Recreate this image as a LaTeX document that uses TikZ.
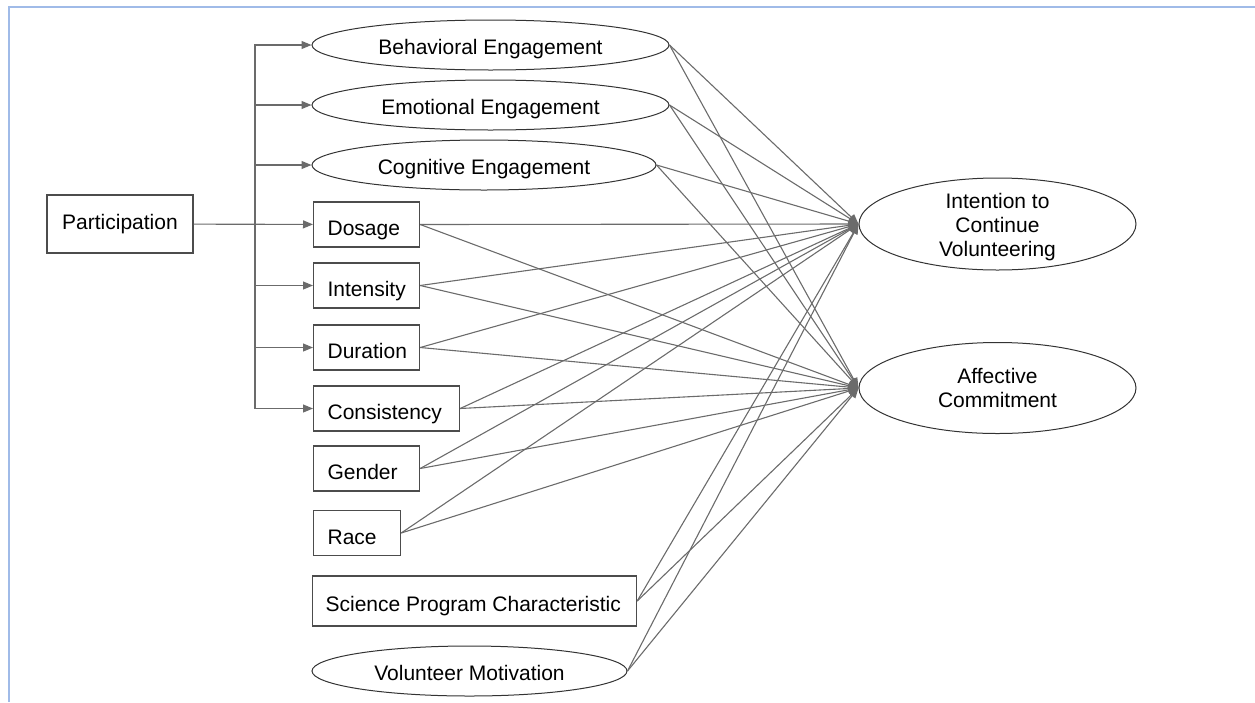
\documentclass[tikz,border=0pt]{standalone}
\usepackage{fontspec}
\setmainfont{Liberation Sans}
\usetikzlibrary{shapes, arrows.meta, positioning}
\definecolor{bingkai}{RGB}{160,187,232}

\begin{document}
\begin{tikzpicture}
  [
  x = 1pt, y = -1pt,
  block/.style = {rectangle,
    draw = black!70, line width = 1.2pt, minimum height = 45pt,
    inner ysep = 0pt, inner xsep = 14pt, anchor = west, align = flush left,
    text height = 25pt, text depth = 3pt,
    font = \fontsize{21}{24}\selectfont},
  % bulat
  bulat/.style = {ellipse,
    draw = black!80, line width = 1pt, minimum height = 50pt,
    inner sep = 0pt, align = center,
    text height = 20pt, text depth = 2pt,
    font = \fontsize{21}{24}\selectfont},
  % bulat besar
  besar/.style = {bulat, minimum width = 277pt, inner ysep = -5pt,
    text height = {}, text depth = {}},
  % line
  line/.style = {draw = black!58, line width = 1.1pt,
    -{Triangle[length = 10pt, width = 8pt]}},
  ]

  \useasboundingbox (0,0) rectangle (1255,702);
  \draw [bingkai, line width = 1.5pt] (9,702) -- (9,7) -- (1255,7);

  % nodes
  \node [block, anchor = center, align = center, text width = 118pt,
    text height = 15pt, text depth = 4pt, minimum height = 58pt]
    (part) at (120,224) {Participation};
  \node [bulat, minimum width = 357pt] (behav) at (490.5,45) {Behavioral Engagement};
  \node [bulat, minimum width = 357pt] (emot) at (490.5,105) {Emotional Engagement};
  \node [bulat, minimum width = 344pt] (cogn) at (484,165) {Cognitive Engagement};
  \node [block, text width = 78pt] (dose) at (313,224.5) {Dosage};
  \node [block, text width = 78pt] (inten) at (313,285.5) {Intensity};
  \node [block, text width = 78pt] (durat) at (313,347.5) {Duration};
  \node [block, text width = 118pt] (konsis) at (313,408.5) {Consistency};
  \node [block, text width = 78pt] (gender) at (313,468.5) {Gender};
  \node [block, text width = 59pt] (race) at (313,533) {Race};
  \node [block, text width = 298pt, minimum height = 50pt, inner xsep = 13pt,
    text height = 23pt]
    (sains) at (312,601) {Science Program Characteristic};
  \node [bulat, minimum width = 315pt] (motiv) at (469.5,671) {Volunteer Motivation};
  \node [besar, minimum height = 92pt]
    (niat) at (997.5,224) {\rule{0pt}{22pt}Intention to\\Continue\\Volunteering};
  \node [besar, minimum height = 91pt]
    (afek) at (997.5,388) {Affective\\Commitment};
  \coordinate (cabang) at (255,224.5);

  % path
  \path [line] (part) -- (dose);
  \path [line] (cabang) |- (behav);
  \path [line] (cabang) |- (konsis);
  \path [line] (cabang |- emot) -- (emot);
  \path [line] (cabang |- cogn) -- (cogn);
  \path [line] (cabang |- inten) -- (inten);
  \path [line] (cabang |- durat) -- (durat);

  \path [line] (behav.east) -- (niat.west);
  \path [line] (behav.east) -- (afek.west);
  \path [line] (emot.east) -- (niat.west);
  \path [line] (emot.east) -- (afek.west);
  \path [line] (cogn.east) -- (niat.west);
  \path [line] (cogn.east) -- (afek.west);
  \path [line] (dose.east) -- (niat.west);
  \path [line] (dose.east) -- (afek.west);
  \path [line] (inten.east) -- (niat.west);
  \path [line] (inten.east) -- (afek.west);
  \path [line] (durat.east) -- (niat.west);
  \path [line] (durat.east) -- (afek.west);
  \path [line] (konsis.east) -- (niat.west);
  \path [line] (konsis.east) -- (afek.west);
  \path [line] (gender.east) -- (niat.west);
  \path [line] (gender.east) -- (afek.west);
  \path [line] (race.east) -- (niat.west);
  \path [line] (race.east) -- (afek.west);
  \path [line] (sains.east) -- (niat.west);
  \path [line] (sains.east) -- (afek.west);
  \path [line] (motiv.east) -- (niat.west);
  \path [line] (motiv.east) -- (afek.west);

\end{tikzpicture}
\end{document}
